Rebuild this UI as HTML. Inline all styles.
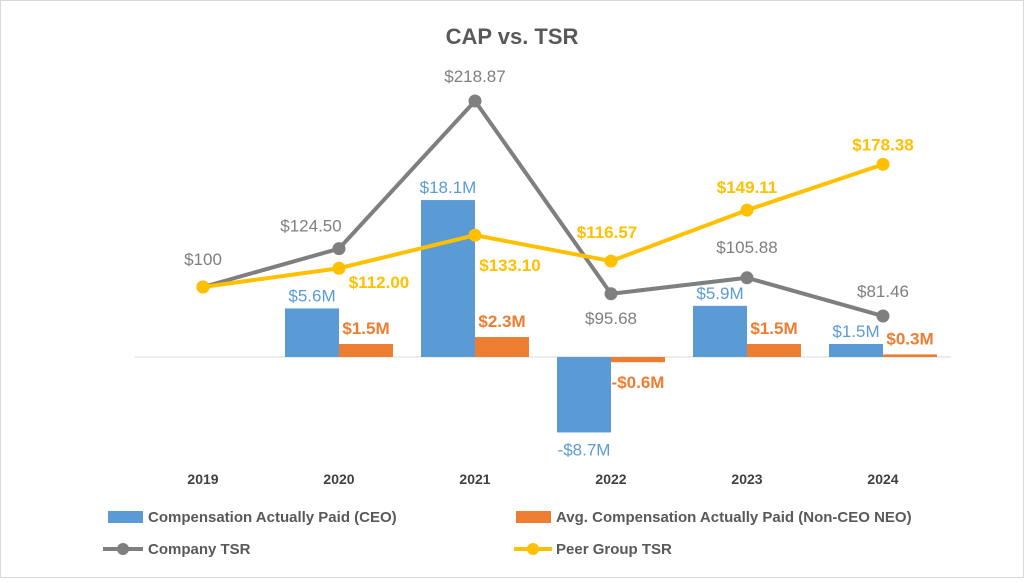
<!DOCTYPE html>
<html><head><meta charset="utf-8"><style>
body{margin:0;background:#fff}
svg text{font-family:"Liberation Sans",sans-serif}
</style></head><body>
<svg id="c" width="1024" height="578" xmlns="http://www.w3.org/2000/svg">
<rect x="0.5" y="0.5" width="1023" height="577" fill="#fff" stroke="#d9d9d9"/>
<text x="512" y="44" text-anchor="middle" font-size="22" font-weight="bold" fill="#595959">CAP vs. TSR</text>
<line x1="135" y1="357" x2="951" y2="357" stroke="#d9d9d9"/>
<g id="marks"></g>
<g>
<rect x="108" y="511" width="35" height="12" fill="#5B9BD5"/>
<text x="148" y="522" font-size="15" font-weight="bold" fill="#595959">Compensation Actually Paid (CEO)</text>
<rect x="516" y="511" width="35" height="12" fill="#ED7D31"/>
<text x="556" y="522" font-size="15" font-weight="bold" fill="#595959">Avg. Compensation Actually Paid (Non-CEO NEO)</text>
<line x1="103" y1="549" x2="143" y2="549" stroke="#7F7F7F" stroke-width="4"/>
<circle cx="123" cy="549" r="6" fill="#7F7F7F"/>
<text x="148" y="554" font-size="15" font-weight="bold" fill="#595959">Company TSR</text>
<line x1="514" y1="549" x2="552" y2="549" stroke="#FFC000" stroke-width="4"/>
<circle cx="533" cy="549" r="6" fill="#FFC000"/>
<text x="556" y="554" font-size="15" font-weight="bold" fill="#595959">Peer Group TSR</text>
</g>
</svg>
<script>
const years=["2019","2020","2021","2022","2023","2024"];
const ceoCap=[null,5.6,18.1,-8.7,5.9,1.5];
const neoCap=[null,1.5,2.3,-0.6,1.5,0.3];
const companyTsr=[100,124.50,218.87,95.68,105.88,81.46];
const peerTsr=[100,112.00,133.10,116.57,149.11,178.38];
const ceoLabels=["","$5.6M","$18.1M","-$8.7M","$5.9M","$1.5M"];
const neoLabels=["","$1.5M","$2.3M","-$0.6M","$1.5M","$0.3M"];
const companyLabels=["$100","$124.50","$218.87","$95.68","$105.88","$81.46"];
const peerLabels=["","$112.00","$133.10","$116.57","$149.11","$178.38"];

const NS="http://www.w3.org/2000/svg";
const g=document.getElementById('marks');
const xC=i=>203+i*136;
const yBar=v=>357-v*8.67;
const yTsr=v=>443.5-v*1.565;
function mk(tag,a,parent){const e=document.createElementNS(NS,tag);for(const k in a)e.setAttribute(k,a[k]);(parent||g).appendChild(e);return e;}
function txt(x,y,s,fill,bold,anchor){const t=mk('text',{x:x,y:y,'font-size':17,fill:fill,'text-anchor':anchor||'middle','font-weight':bold?'bold':'normal'});t.textContent=s;return t;}

years.forEach((yr,i)=>{
  const t=txt(xC(i),484,yr,'#404040',true);
  t.setAttribute('font-size','14');
  
  
  if(ceoCap[i]!==null){
    const v=ceoCap[i],y0=yBar(0),y1=yBar(v);
    const r=mk('rect',{x:xC(i)-54,y:Math.min(y0,y1),width:54,height:Math.abs(y1-y0),fill:'#5B9BD5'});
    
    
    const ly=v>=0?y1-7:y1+23;
    const l=txt(xC(i)-27,ly,ceoLabels[i],'#5B9BD5',false);
    
    
  }
  if(neoCap[i]!==null){
    const v=neoCap[i],y0=yBar(0),y1=yBar(v);
    const r=mk('rect',{x:xC(i),y:Math.min(y0,y1),width:54,height:Math.max(2,Math.abs(y1-y0)),fill:'#ED7D31'});
    
    
    const ly=v>=0?y1-10:y1+26;
    const l=txt(xC(i)+27,ly,neoLabels[i],'#ED7D31',true);
    
    
  }
});

function series(vals,color,name){
  const pts=vals.map((v,i)=>xC(i)+','+yTsr(v)).join(' ');
  const pl=mk('polyline',{points:pts,fill:'none',stroke:color,'stroke-width':4,'stroke-linejoin':'round'});
  
  
  vals.forEach((v,i)=>{
    const c=mk('circle',{cx:xC(i),cy:yTsr(v),r:6.5,fill:color});
    
    
  });
}
series(companyTsr,'#7F7F7F','company-tsr');
series(peerTsr,'#FFC000','peer-tsr');

const compOff=[[0,-22],[-28,-17],[0,-19],[0,30],[0,-25],[0,-19]];
companyTsr.forEach((v,i)=>{
  const l=txt(xC(i)+compOff[i][0],yTsr(v)+compOff[i][1],companyLabels[i],'#7F7F7F',false);
  
  
});
const peerOff=[[0,0],[40,20],[35,36],[-4,-23],[0,-17],[0,-14]];
peerTsr.forEach((v,i)=>{
  if(!peerLabels[i])return;
  const l=txt(xC(i)+peerOff[i][0],yTsr(v)+peerOff[i][1],peerLabels[i],'#FFC000',true);
  
  
});
</script>
</body></html>
